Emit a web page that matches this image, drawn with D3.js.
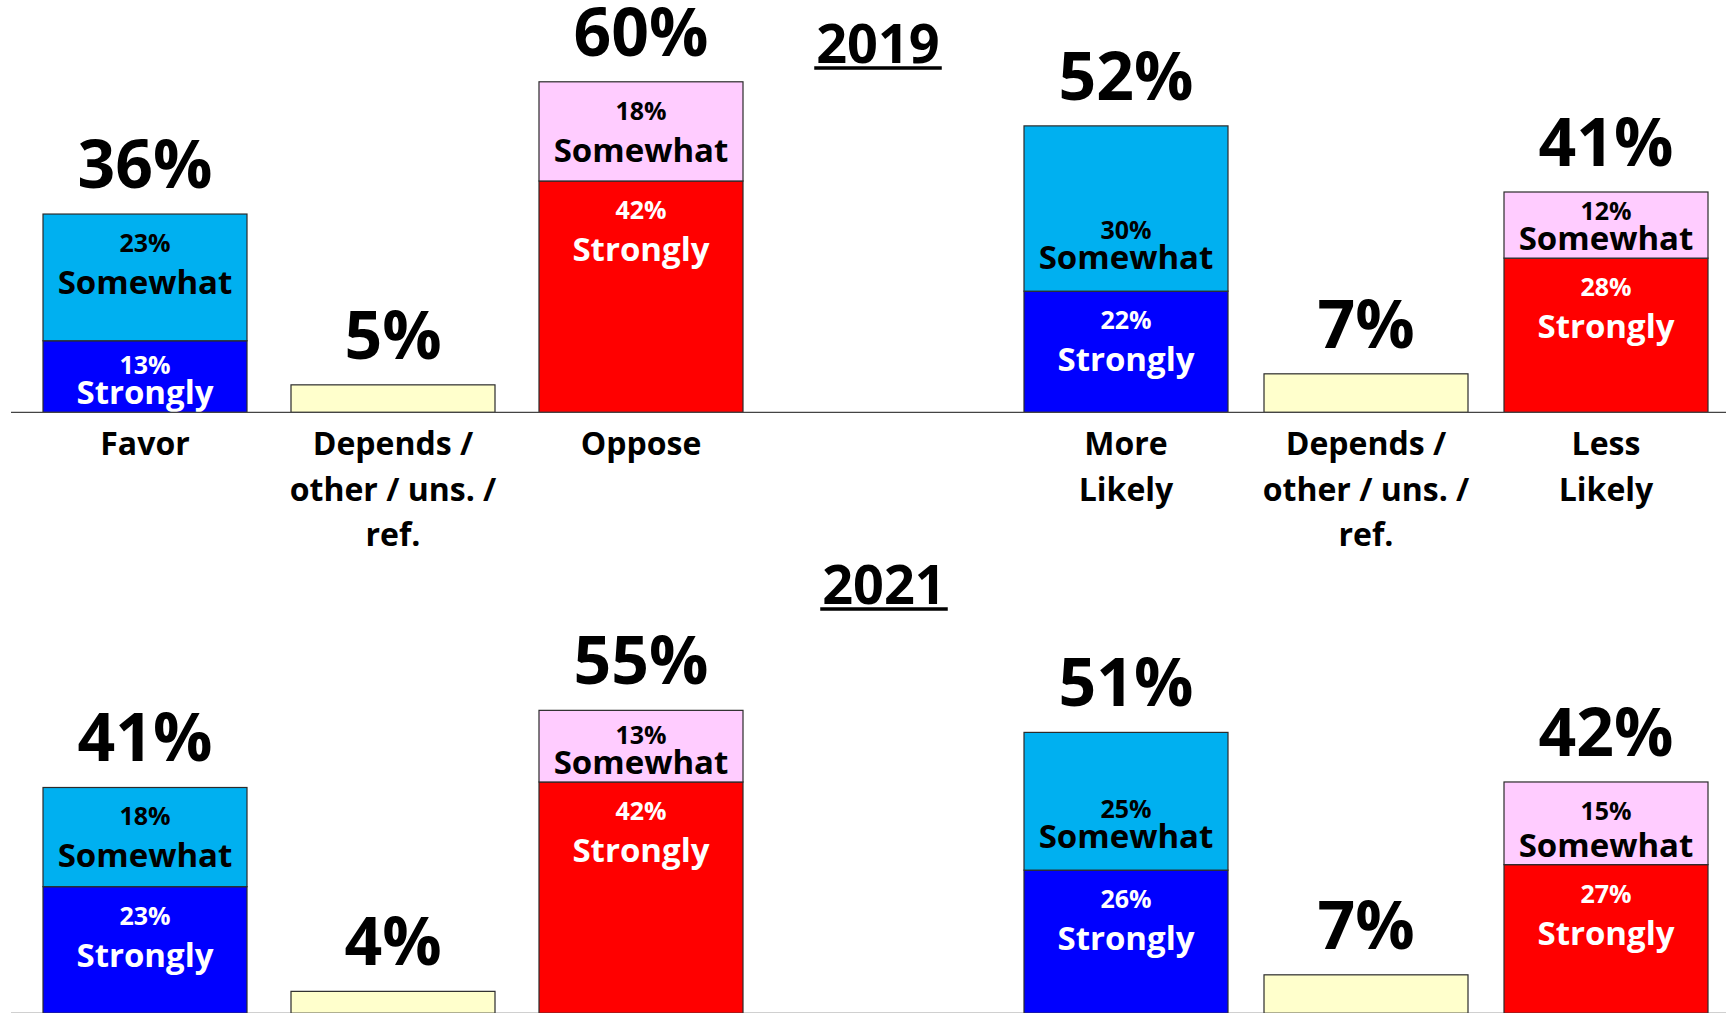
<!DOCTYPE html>
<html>
<head>
<meta charset="utf-8">
<script src="https://cdn.jsdelivr.net/npm/d3@7"></script>
<style>
  html, body { margin: 0; padding: 0; background: #fff; overflow: hidden; }
  text { font-family: "Open Sans", sans-serif; font-weight: 700; }
</style>
</head>
<body>
<div id="graphicContainer"></div>
<script>
// columns: left chart = favor / oppose, right chart = more / less likely
var leftKeys = ["favor", "dep1", "oppose"],
	rightKeys = ["more", "dep2", "less"],
	columnKeys = leftKeys.concat(rightKeys);

var categoryLines = [
	["Favor"],
	["Depends /", "other / uns. /", "ref."],
	["Oppose"],
	["More", "Likely"],
	["Depends /", "other / uns. /", "ref."],
	["Less", "Likely"]
];

// 2019
var strongly2019 = [13, 0, 42, 22, 0, 28],
	somewhat2019 = [23, 0, 18, 30, 0, 12],
	other2019    = [0, 5, 0, 0, 7, 0],
	totals2019   = [36, 5, 60, 52, 7, 41];

// 2021
var strongly2021 = [23, 0, 42, 26, 0, 27],
	somewhat2021 = [18, 0, 13, 25, 0, 15],
	other2021    = [0, 4, 0, 0, 7, 0],
	totals2021   = [41, 4, 55, 51, 7, 42];

var width = 1729,
	height = 1013;

var strongColors = ["#0000FF", null, "#FF0000", "#0000FF", null, "#FF0000"],
	someColors = ["#00B0F0", null, "#FFCCFF", "#00B0F0", null, "#FFCCFF"],
	otherColor = "#FFFFCC";

var panels = [
	{year: "2019", base: 412.4, titleX: 878, titleY: 63, strongly: strongly2019, somewhat: somewhat2019, other: other2019, totals: totals2019, labels: true},
	{year: "2021", base: 1013.4, titleX: 884, titleY: 604, strongly: strongly2021, somewhat: somewhat2021, other: other2021, totals: totals2021, labels: false}
];

var svg = d3.select("#graphicContainer")
	.append("svg")
	.attr("width", width)
	.attr("height", height)
	.style("display", "block");

var y = d3.scaleLinear().domain([0, 60]).range([0, 330.6]);

var xLeft = d3.scaleBand().domain(leftKeys).range([43, 743]).paddingInner(0.1774),
	xRight = d3.scaleBand().domain(rightKeys).range([1024, 1708]).paddingInner(0.15);

function xPos(key) { return leftKeys.indexOf(key) >= 0 ? xLeft(key) : xRight(key); }
var bw = xLeft.bandwidth();

panels.forEach(function(p) {
	var g = svg.append("g").attr("class", "panel_" + p.year);

	// segments for every column
	var segs = [];
	columnKeys.forEach(function(key, i) {
		var cum = 0;
		if (p.other[i] > 0) {
			segs.push({key: key, i: i, v: p.other[i], lo: 0, fill: otherColor, upper: false, name: null});
			return;
		}
		segs.push({key: key, i: i, v: p.strongly[i], lo: cum, fill: strongColors[i], upper: false, name: "Strongly", dark: true});
		cum += p.strongly[i];
		segs.push({key: key, i: i, v: p.somewhat[i], lo: cum, fill: someColors[i], upper: true, name: "Somewhat", dark: false});
	});

	g.selectAll(".seg")
		.data(segs)
		.enter().append("rect")
		.attr("class", "seg")
		.attr("x", function(d) { return xPos(d.key); })
		.attr("y", function(d) { return p.base - y(d.lo + d.v); })
		.attr("width", bw)
		.attr("height", function(d) { return y(d.v); })
		.attr("fill", function(d) { return d.fill; })
		.attr("stroke", "#2b2b2b")
		.attr("stroke-width", 1.2);

	// labels inside segments
	segs.filter(function(d) { return d.name; }).forEach(function(d) {
		var top = p.base - y(d.lo + d.v),
			bottom = p.base - y(d.lo),
			cx = xPos(d.key) + bw / 2,
			nameY, pctY;
		if (d.upper && bottom - top > 130) {
			nameY = bottom - 22;
			pctY = nameY - 30;
		} else {
			nameY = Math.min(top + 80, bottom - 8);
			pctY = Math.min(top + 38, nameY - 30);
		}
		var col = d.dark ? "#fff" : "#000";
		g.append("text")
			.attr("x", cx).attr("y", pctY)
			.attr("text-anchor", "middle")
			.attr("font-size", "25px")
			.attr("fill", col)
			.text(d.v + "%");
		g.append("text")
			.attr("x", cx).attr("y", nameY)
			.attr("text-anchor", "middle")
			.attr("font-size", "33px")
			.attr("fill", col)
			.text(d.name);
	});

	// totals above bars
	g.selectAll(".total")
		.data(columnKeys)
		.enter().append("text")
		.attr("class", "total")
		.attr("x", function(key) { return xPos(key) + bw / 2; })
		.attr("y", function(key, i) {
			var h = p.other[i] > 0 ? p.other[i] : p.strongly[i] + p.somewhat[i];
			return p.base - y(h) - 26;
		})
		.attr("text-anchor", "middle")
		.attr("font-size", "66px")
		.attr("fill", "#000")
		.text(function(key, i) { return p.totals[i] + "%"; });

	// baseline
	g.append("line")
		.attr("x1", 11).attr("x2", 1726)
		.attr("y1", p.base).attr("y2", p.base)
		.attr("stroke", "#444")
		.attr("stroke-width", 1.2);

	// category labels
	if (p.labels) {
		columnKeys.forEach(function(key, i) {
			var t = g.append("text")
				.attr("text-anchor", "middle")
				.attr("font-size", "32px")
				.attr("fill", "#000");
			categoryLines[i].forEach(function(line, j) {
				t.append("tspan")
					.attr("x", xPos(key) + bw / 2)
					.attr("y", 455 + j * 45.5)
					.text(line);
			});
		});
	}

	// year title, underlined
	var title = g.append("text")
		.attr("x", p.titleX).attr("y", p.titleY)
		.attr("text-anchor", "middle")
		.attr("font-size", "54px")
		.attr("fill", "#000")
		.text(p.year);
	var tw = title.node().getComputedTextLength();
	g.append("line")
		.attr("x1", p.titleX - tw / 2 - 2).attr("x2", p.titleX + tw / 2 + 2)
		.attr("y1", p.titleY + 5).attr("y2", p.titleY + 5)
		.attr("stroke", "#000")
		.attr("stroke-width", 3.5);
});
</script>
</body>
</html>
